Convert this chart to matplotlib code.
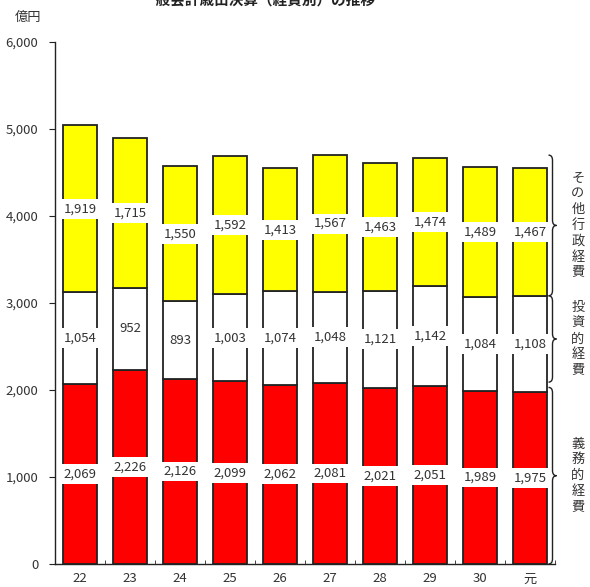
import matplotlib
matplotlib.use("Agg")
import matplotlib.pyplot as plt
from matplotlib.path import Path
from matplotlib.patches import PathPatch
import numpy as np

plt.rcParams['font.family'] = ['Noto Sans CJK JP', 'DejaVu Sans']

# 年度（平成22〜30、令和元年）
years = ['22', '23', '24', '25', '26', '27', '28', '29', '30', '元']
gimu = [2069, 2226, 2126, 2099, 2062, 2081, 2021, 2051, 1989, 1975]      # 義務的経費
toushi = [1054, 952, 893, 1003, 1074, 1048, 1121, 1142, 1084, 1108]      # 投資的経費
sonota = [1919, 1715, 1550, 1592, 1413, 1567, 1463, 1474, 1489, 1467]    # その他行政経費

group_names = ['義務的経費', '投資的経費', 'その他行政経費']
brace_spans = [(0, 2030), (2090, 3083), (3083, 4700)]

colors = ['#ff0000', '#ffffff', '#ffff00']
edge = '#222222'
txt = '#333333'

fig = plt.figure(figsize=(5.9, 5.87), dpi=100)
ax = fig.add_axes([55/590, 1-564/587, 500/590, (564-42)/587])

x = np.arange(len(years))
w = 0.68
bottom = np.zeros(len(years))
for vals, c in zip([gimu, toushi, sonota], colors):
    vals = np.array(vals)
    ax.bar(x, vals, w, bottom=bottom, color=c, edgecolor=edge, linewidth=1.3, zorder=2)
    for xi, b, v in zip(x, bottom, vals):
        ax.text(xi, b + v/2, f'{v:,}', ha='center', va='center', fontsize=9.5,
                color=txt, zorder=3,
                bbox=dict(facecolor='white', edgecolor='none', pad=2.5))
    bottom += vals

ax.set_xlim(-0.5, len(years) - 0.5)
ax.set_ylim(0, 6000)
ax.set_yticks(range(0, 6001, 1000))
ax.set_yticklabels([f'{v:,}' for v in range(0, 6001, 1000)], fontsize=9.5, color=txt)
ax.set_xticks(x)
ax.set_xticklabels(years, fontsize=9.5, color=txt)
ax.set_xticks(np.arange(-0.5, len(years)), minor=True)
ax.tick_params(axis='x', which='major', length=0, pad=6)
ax.tick_params(axis='x', which='minor', direction='in', length=3, color=edge)
ax.tick_params(axis='y', direction='out', length=4, color=edge, pad=8)
for s in ['top', 'right']:
    ax.spines[s].set_visible(False)
for s in ['left', 'bottom']:
    ax.spines[s].set_color(edge)
    ax.spines[s].set_linewidth(1.0)


# 右側の中括弧
def brace(ax, x0, y0, y1, wd):
    ym = (y0 + y1) / 2
    k = min(60, (y1 - y0) * 0.08)
    xm = x0 + wd * 0.5
    verts = [(x0, y1), (xm, y1), (xm, y1 - k),
             (xm, ym + k), (xm, ym), (x0 + wd, ym),
             (xm, ym), (xm, ym - k),
             (xm, y0 + k), (xm, y0), (x0, y0)]
    codes = [Path.MOVETO, Path.CURVE3, Path.CURVE3,
             Path.LINETO, Path.CURVE3, Path.CURVE3,
             Path.CURVE3, Path.CURVE3,
             Path.LINETO, Path.CURVE3, Path.CURVE3]
    ax.add_patch(PathPatch(Path(verts, codes), facecolor='none', edgecolor=edge,
                           linewidth=1.0, clip_on=False, zorder=4))


for name, (y0, y1) in zip(group_names, brace_spans):
    brace(ax, 9.37, y0, y1, 0.16)
    ax.text(9.96, (y0 + y1) / 2, '\n'.join(name), ha='center', va='center',
            fontsize=9.5, color=txt, linespacing=1.28, clip_on=False)

fig.text(15/590, 1-17/587, '億円', ha='left', va='center', fontsize=9.5, color=txt)
fig.text(259/590, 1-8/587, '一般会計歳出決算（経費別）の推移', ha='center', va='bottom',
         fontsize=10.5, fontweight='bold', color='#222222')

fig.savefig('out.png', dpi=100)
